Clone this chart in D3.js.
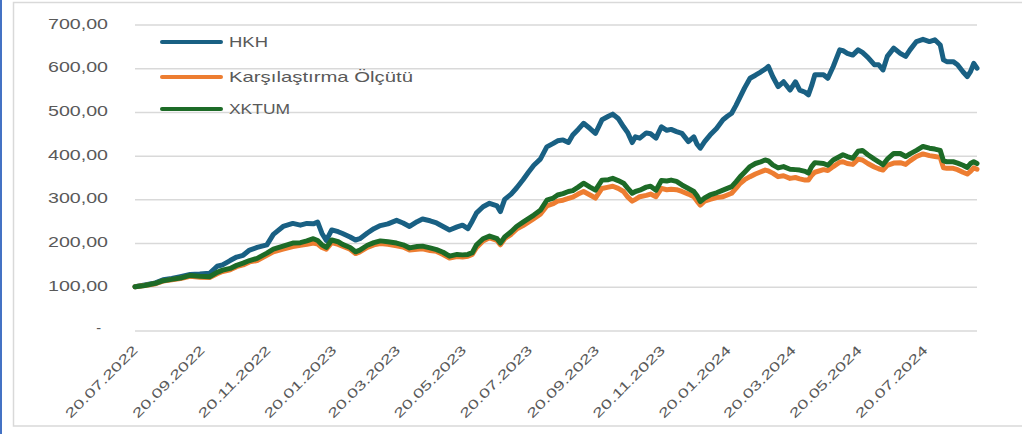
<!DOCTYPE html>
<html><head><meta charset="utf-8">
<script src="https://cdn.jsdelivr.net/npm/d3@7"></script>
<style>body{margin:0;background:#fff;} svg{display:block;font-family:"Liberation Sans",Arial,sans-serif;}</style>
</head><body><svg id="c" width="1022" height="434"></svg>
<script>
const dates = ["2022-07-20","2022-07-29","2022-08-08","2022-08-15","2022-08-23","2022-08-31","2022-09-09","2022-09-18","2022-09-27","2022-10-04",
"2022-10-09","2022-10-16","2022-10-22","2022-10-28","2022-11-03","2022-11-10","2022-11-19","2022-11-25","2022-12-04","2022-12-13",
"2022-12-20","2022-12-26","2023-01-01","2023-01-05","2023-01-09","2023-01-13","2023-01-18","2023-01-24","2023-01-28","2023-02-04",
"2023-02-09","2023-02-13","2023-02-20","2023-02-26","2023-03-04","2023-03-11","2023-03-19","2023-03-25","2023-03-31","2023-04-07",
"2023-04-12","2023-04-19","2023-04-25","2023-05-01","2023-05-07","2023-05-14","2023-05-19","2023-05-24","2023-05-28","2023-06-01",
"2023-06-07","2023-06-13","2023-06-20","2023-06-23","2023-06-27","2023-07-03","2023-07-08","2023-07-14","2023-07-19","2023-07-24",
"2023-07-30","2023-08-05","2023-08-11","2023-08-15","2023-08-20","2023-08-25","2023-08-29","2023-09-03","2023-09-08","2023-09-14",
"2023-09-19","2023-09-25","2023-10-01","2023-10-05","2023-10-10","2023-10-15","2023-10-19","2023-10-23","2023-10-26","2023-10-30",
"2023-11-05","2023-11-09","2023-11-14","2023-11-19","2023-11-24","2023-11-28","2023-12-03","2023-12-08","2023-12-14","2023-12-19",
"2023-12-22","2023-12-25","2023-12-29","2024-01-03","2024-01-09","2024-01-15","2024-01-19","2024-01-23","2024-01-27","2024-01-31",
"2024-02-04","2024-02-09","2024-02-14","2024-02-18","2024-02-23","2024-02-26","2024-03-01","2024-03-06","2024-03-11","2024-03-17",
"2024-03-22","2024-03-26","2024-03-31","2024-04-03","2024-04-06","2024-04-09","2024-04-17","2024-04-21","2024-04-26","2024-05-02",
"2024-05-05","2024-05-09","2024-05-14","2024-05-19","2024-05-23","2024-05-28","2024-06-03","2024-06-07","2024-06-11","2024-06-15",
"2024-06-21","2024-06-27","2024-07-02","2024-07-06","2024-07-12","2024-07-18","2024-07-24","2024-07-29","2024-08-03","2024-08-06",
"2024-08-09","2024-08-15","2024-08-19","2024-08-24","2024-08-28","2024-08-31","2024-09-03","2024-09-06"];

const hkh = [100,104,109,116,119,123,128,129,131,147,
150,160,168,172,184,190,196,220,238,245,
241,245,244,248,222,206,230,226,222,214,
207,210,223,233,240,244,252,246,238,249,
255,251,246,238,230,237,241,233,250,269,
283,291,285,272,300,312,326,345,362,378,
392,420,428,434,436,430,447,460,474,462,
451,482,490,495,485,466,452,430,443,440,
452,450,440,466,458,460,455,451,432,443,
426,417,432,447,462,482,490,497,515,535,
555,577,584,590,598,604,581,558,569,550,
569,550,545,539,560,585,585,577,604,642,
640,634,630,642,636,625,608,608,596,627,
646,634,627,642,661,666,661,665,653,619,
615,615,608,592,581,592,611,600];

const benchmark = [100,103,107,113,116,119,124,122,121,130,
135,139,146,150,157,160,172,180,186,192,
195,197,200,198,190,186,201,197,193,186,
176,180,190,196,199,197,194,191,184,186,
187,183,181,174,166,169,168,170,174,190,
205,212,206,196,210,220,232,240,248,256,
266,285,290,296,298,302,305,312,318,310,
303,325,328,330,325,318,305,296,300,306,
309,312,306,325,322,323,322,318,312,306,
296,287,296,300,304,306,310,314,325,337,
345,352,358,362,367,365,360,352,354,348,
350,347,344,344,355,362,368,366,375,385,
386,382,380,392,390,382,374,370,367,378,
383,384,380,388,398,404,400,398,396,372,
371,371,368,362,358,364,372,369];

const xktum = [100,103,108,114,117,120,126,124,123,133,
138,142,149,154,160,165,177,186,193,200,
201,205,210,206,196,190,207,203,197,190,
180,184,195,201,205,203,200,196,189,192,
193,189,185,179,170,174,173,174,178,196,
210,216,210,200,214,226,238,248,256,264,
275,298,303,310,313,318,320,328,337,328,
321,344,345,348,343,337,325,314,318,321,
328,330,321,343,342,344,341,333,325,318,
308,295,303,310,315,321,325,329,340,352,
362,375,382,385,390,388,379,372,375,369,
368,367,364,360,375,384,382,378,390,398,
402,398,394,410,412,402,392,386,379,392,
405,405,398,404,412,421,417,415,412,388,
386,386,383,378,373,382,386,382];

const yTicks = [0,100,200,300,400,500,600,700];
const xTickDates = ["2022-07-20","2022-09-20","2022-11-20","2023-01-20","2023-03-20","2023-05-20","2023-07-20",
"2023-09-20","2023-11-20","2024-01-20","2024-03-20","2024-05-20","2024-07-20"];
const seriesNames = ["HKH","Karşılaştırma Ölçütü","XKTUM"];
const seriesColors = ["#196083","#ed7d31","#1d6b27"];

const parse = d3.timeParse("%Y-%m-%d");
const fmtDate = d3.timeFormat("%d.%m.%Y");
const svg = d3.select("#c");

// chart frame
svg.append("rect").attr("x",13.5).attr("y",2.5).attr("width",1030).attr("height",423.5)
  .attr("fill","none").attr("stroke","#d9d9d9").attr("stroke-width",1.5);
svg.append("rect").attr("x",0).attr("y",0).attr("width",2).attr("height",434).attr("fill","#4472c4");

const x = d3.scaleTime().domain([parse(dates[0]), parse(dates[dates.length-1])]).range([135,977]);
const y = d3.scaleLinear().domain([0,700]).range([330.5,24.5]);

// y axis with gridlines
const yAxis = d3.axisLeft(y).tickValues(yTicks).tickSize(-(977-135)).tickPadding(27)
  .tickFormat(d => d === 0 ? "-" : d3.format(".2f")(d).replace(".", ","));
const gy = svg.append("g").attr("transform","translate(135,0)").call(yAxis);
gy.select(".domain").remove();
gy.selectAll(".tick line").attr("stroke","#d9d9d9").attr("stroke-width",1.5);
gy.selectAll(".tick text").attr("fill","#595959").attr("font-size","14.5px")
  .attr("font-family","'Liberation Sans',Arial,sans-serif")
  .attr("dy",null).attr("y",3.5)
  .each(function(d){
    const t = d3.select(this);
    if (d === 0) { t.attr("x",-34).attr("y",2); }
    else { t.attr("textLength",60).attr("lengthAdjust","spacingAndGlyphs"); }
  });

// x axis
const xAxis = d3.axisBottom(x).tickValues(xTickDates.map(parse)).tickSize(0).tickFormat(fmtDate);
const gx = svg.append("g").attr("transform","translate(0,330.5)").call(xAxis);
gx.select(".domain").remove();
gx.selectAll(".tick text").attr("fill","#595959").attr("font-size","13px")
  .attr("font-family","'Liberation Sans',Arial,sans-serif")
  .attr("text-anchor","end").attr("x",0).attr("y",0).attr("dy",null)
  .attr("transform","translate(3,20.5) rotate(-45)")
  .attr("textLength",96).attr("lengthAdjust","spacingAndGlyphs");

// lines
const seriesData = [hkh, benchmark, xktum];
const line = d3.line().x((d,i) => x(parse(dates[i]))).y(d => y(d)).curve(d3.curveLinear);
svg.append("g").selectAll("path").data(seriesData).join("path")
  .attr("d", d => line(d))
  .attr("fill","none")
  .attr("stroke",(d,i) => seriesColors[i])
  .attr("stroke-width",5)
  .attr("stroke-linejoin","round")
  .attr("stroke-linecap","round");

// legend
const legendY = [42, 77, 109];
const legendW = [39, 184, 61];
const lg = svg.append("g").selectAll("g").data(seriesNames).join("g");
lg.append("line").attr("x1",162).attr("x2",221).attr("y1",(d,i)=>legendY[i]).attr("y2",(d,i)=>legendY[i])
  .attr("stroke",(d,i)=>seriesColors[i]).attr("stroke-width",4).attr("stroke-linecap","round");
lg.append("text").attr("x",229).attr("y",(d,i)=>legendY[i]+5.3).text(d=>d)
  .attr("fill","#595959").attr("font-size","15px")
  .attr("textLength",(d,i)=>legendW[i]).attr("lengthAdjust","spacingAndGlyphs");
</script></body></html>
